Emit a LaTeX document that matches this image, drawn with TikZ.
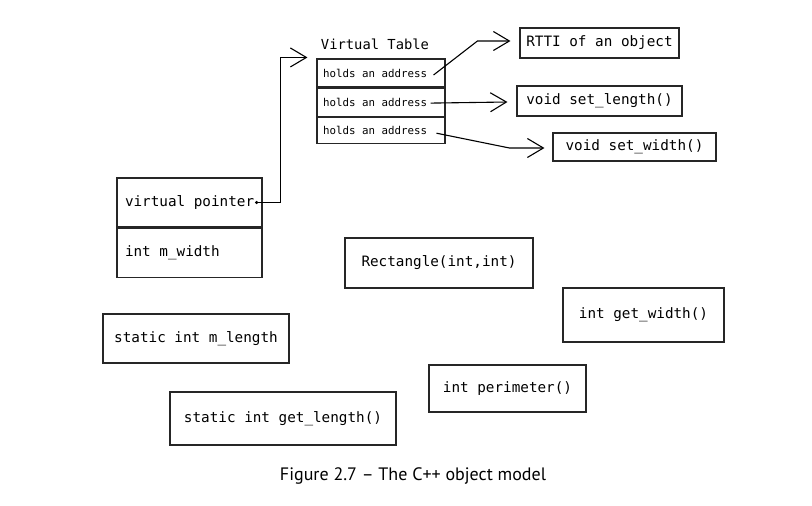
\documentclass[tikz,border=0pt]{standalone}
\usepackage{fontspec}
\setmonofont{DejaVu Sans Mono}
\setsansfont{PT Sans}
\usetikzlibrary{positioning,calc,arrows.meta}

\begin{document}
\begin{tikzpicture}[x=1pt,y=-1pt,
  box/.style={draw=black!85, line width=1.1pt, inner sep=0pt,
    font=\ttfamily\fontsize{14.3}{17}\selectfont},
  cell/.style={box, minimum width=145pt, minimum height=49pt},
  vrow/.style={draw=black!85, line width=1.1pt, inner sep=0pt,
    minimum width=128pt, minimum height=28pt,
    font=\ttfamily\fontsize{10.8}{13}\selectfont},
  vlabel/.style={inner sep=0pt, font=\ttfamily\fontsize{13.8}{16}\selectfont},
  caption/.style={inner sep=0pt, font=\sffamily\fontsize{18}{21}\selectfont},
  link/.style={line width=1.1pt, -{Straight Barb[length=16pt,width=19pt,line width=1.1pt]}}]
\useasboundingbox (0,0) rectangle (812,506);
% virtual table
\node[vrow] (row1) at (381,73) {\makebox[116pt][l]{holds an address}};
\node[vrow, below=0pt of row1] (row2) {\makebox[116pt][l]{holds an address}};
\node[vrow, below=0pt of row2, minimum height=26pt] (row3) {\makebox[116pt][l]{holds an address}};
\node[vlabel, above=9pt of row1, xshift=-6pt] (vtlabel) {Virtual Table};
% targets of the table
\node[box, minimum width=159pt, minimum height=30pt] (rtti) at (599.5,43) {RTTI of an object\hspace{6pt}};
\node[box, minimum width=165pt, minimum height=30pt] (setl) at (599.5,101) {void set\_length()};
\node[box, minimum width=163pt, minimum height=28pt] (setw) at (634.5,147) {void set\_width()};
% the object
\node[cell] (vptr) at (189.5,202.5) {\makebox[129pt][l]{virtual pointer}};
\node[cell, below=0pt of vptr] (mwidth) {\makebox[129pt][l]{int m\_width}};
% members outside the object
\node[box, minimum width=188pt, minimum height=50pt] (ctor) at (439,263) {Rectangle(int,int)};
\node[box, minimum width=161pt, minimum height=54pt] (getw) at (643.5,315) {int get\_width()};
\node[box, minimum width=186pt, minimum height=49pt] (mlen) at (196,338.5) {static int m\_length};
\node[box, minimum width=157pt, minimum height=47pt] (perim) at (507.5,388.5) {int perimeter()};
\node[box, minimum width=226pt, minimum height=53pt] (getl) at (283,418.5) {static int get\_length()};
\node[caption] (cap) at (413,476) {Figure 2.7 – The C++ object model};
% pointer into the table
\coordinate (vdot) at ($(vptr.east)+(-6,0)$);
\fill (vdot) circle (1.7);
\draw[link] (vdot) -- ++(24,0) |- ($(row1.north west)+(-9,-1)$);
% entries of the table
\draw[link] ($(row1.east)+(-12,2)$) -- ($(rtti.west)+(-42,-2)$) -- ($(rtti.west)+(-9,-2)$);
\draw[link] ($(row2.east)+(-15,1)$) -- ($(setl.west)+(-9,1)$);
\draw[link] ($(row3.east)+(-9,3)$) -- ($(setw.west)+(-43,1)$) -- ($(setw.west)+(-8,1)$);
\end{tikzpicture}
\end{document}
